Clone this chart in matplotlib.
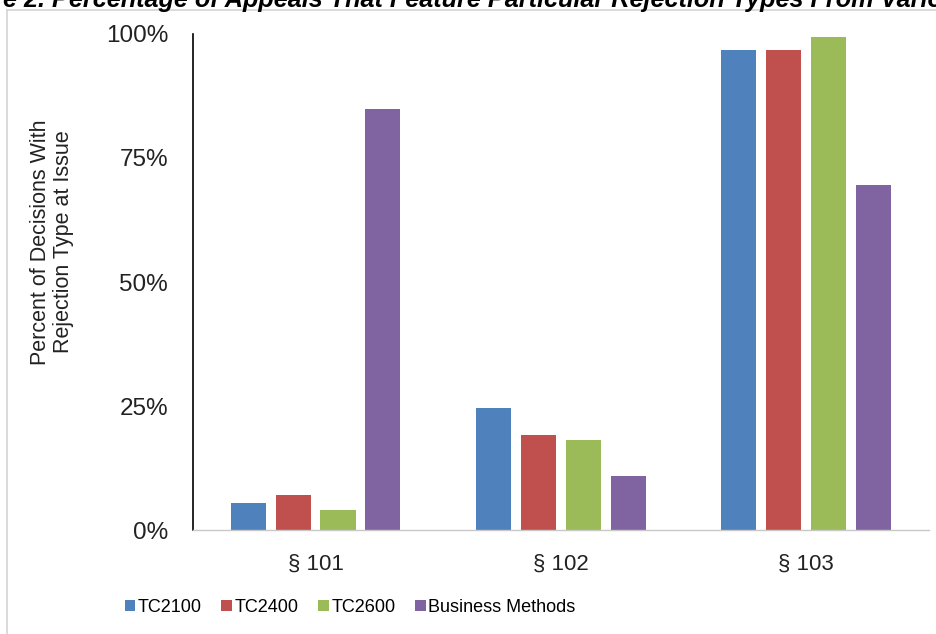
import matplotlib
matplotlib.use("Agg")
import matplotlib.pyplot as plt
from matplotlib.lines import Line2D
from matplotlib.ticker import PercentFormatter
import numpy as np

plt.rcParams["font.family"] = ["Liberation Sans", "DejaVu Sans"]

# Share of decisions (%) with each rejection type at issue
categories = ["\u00a7 101", "\u00a7 102", "\u00a7 103"]
series_names = ["TC2100", "TC2400", "TC2600", "Business Methods"]
tc2100 = [5.5, 24.5, 96.8]
tc2400 = [7.0, 19.2, 96.8]
tc2600 = [4.0, 18.1, 99.4]
business_methods = [84.9, 10.9, 69.6]

colors = ["#4F81BD", "#C0504D", "#9BBB59", "#8064A2"]

fig = plt.figure(figsize=(9.36, 6.34), dpi=100)
ax = fig.add_axes([0.2062, 0.164, 0.992 - 0.2062, 0.9464 - 0.164])

x = np.arange(len(categories))
width = 0.143
step = 0.183
for i, (vals, name) in enumerate(zip([tc2100, tc2400, tc2600, business_methods], series_names)):
    ax.bar(x + (i - 1.5) * step, vals, width, color=colors[i], label=name)

ax.set_xlim(-0.5, 2.5)
ax.set_ylim(0, 100)
ax.set_yticks([0, 25, 50, 75, 100])
ax.yaxis.set_major_formatter(PercentFormatter(decimals=0))
ax.set_xticks(x)
ax.set_xticklabels(categories)
ax.tick_params(axis="y", length=0, pad=18, labelsize=17.5, colors="#222222")
ax.tick_params(axis="x", length=0, pad=17, labelsize=16, colors="#222222")

for side in ["top", "right"]:
    ax.spines[side].set_visible(False)
ax.spines["left"].set_color("black")
ax.spines["left"].set_linewidth(1.2)
ax.spines["bottom"].set_color("#c8c8c8")
ax.spines["bottom"].set_linewidth(1.0)

fig.text(52 / 936, 1 - 242 / 634,
         "Percent of Decisions With\nRejection Type at Issue",
         rotation=90, ha="center", va="center", multialignment="center",
         fontsize=15.5, color="#222222", linespacing=1.15)

fig.legend(loc="center", bbox_to_anchor=(350 / 936, 1 - 607 / 634), ncol=4,
           frameon=False, fontsize=13, handlelength=0.57, handleheight=0.57,
           handletextpad=0.15, columnspacing=1.1, borderpad=0)

# caption running off the top edge
fig.text(-60 / 936, 1 - 7 / 634,
         "Figure 2. Percentage of Appeals That Feature Particular Rejection Types From Various Technology Centers",
         ha="left", va="baseline", fontsize=18.2, fontweight="bold",
         fontstyle="italic", color="black")

# light frame around the chart area
fig.add_artist(Line2D([7 / 936, 1], [1 - 10 / 634, 1 - 10 / 634],
                      transform=fig.transFigure, color="#d4d4d4", lw=1.2))
fig.add_artist(Line2D([7 / 936, 7 / 936], [0, 1 - 10 / 634],
                      transform=fig.transFigure, color="#d4d4d4", lw=1.2))

fig.savefig("out.png", dpi=100)
